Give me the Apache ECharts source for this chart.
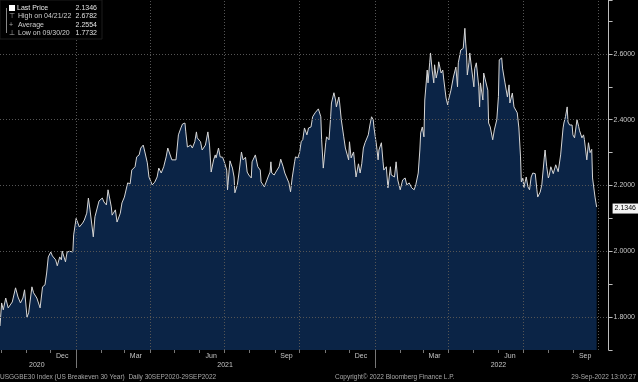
<!DOCTYPE html>
<html>
<head>
<meta charset="utf-8">
<script src="https://cdn.jsdelivr.net/npm/echarts@6/dist/echarts.min.js"></script>
<style>
html,body{margin:0;padding:0;background:#000;}
#chart{width:638px;height:382px;}
</style>
</head>
<body>
<div id="chart"></div>
<script>
// Days since 30-Sep-2020 for each sampled observation
const days = [
0,2,4,7,10,15,19,22,25,28,
30,33,35,39,41,45,49,51,52,55,
57,59,62,64,66,68,70,73,75,76,
80,82,85,89,90,93,95,97,101,103,
106,108,110,114,116,118,121,125,127,130,
132,136,137,141,143,147,149,152,154,156,
159,161,165,167,170,172,175,177,180,182,
184,186,189,192,194,197,200,203,205,207,
210,212,215,216,218,221,223,226,227,229,
233,235,238,240,241,245,247,249,251,254,
256,258,261,263,264,267,269,272,274,277,
278,280,281,284,286,287,290,292,295,297,
300,302,304,307,308,312,313,315,318,319,
323,325,328,330,331,332,335,337,341,343,
346,348,349,353,355,357,360,361,364,366,
368,370,372,375,377,380,382,385,387,389,
392,393,395,398,399,402,404,405,408,410,
411,414,415,417,420,422,423,426,427,429,
432,433,435,438,440,442,444,446,450,452,
454,456,457,460,462,463,466,468,469,472,
474,477,478,482,484,486,489,490,492,495,
497,500,503,506,508,511,513,514,516,518,
519,522,523,525,526,528,530,531,533,535,
536,539,541,542,545,547,548,551,553,554,
557,559,560,563,566,568,569,570,571,573,
574,576,579,580,582,585,586,587,590,591,
593,596,597,599,602,604,607,609,610,613,
614,616,617,620,622,623,626,628,630,632,
634,636,637,639,640,643,645,647,649,651,
654,656,657,660,662,665,666,668,670,671,
673,676,677,679,682,683,685,688,689,691,
693,694,696,699,700,702,705,707,708,711,
713,714,717,719,721,723,724,726,727,729
];
// US Breakeven 30 Year values
const values = [
1.773,1.843,1.822,1.858,1.828,1.846,1.889,1.861,1.843,1.858,
1.883,1.800,1.813,1.892,1.874,1.858,1.828,1.830,1.892,1.898,
1.934,1.983,1.998,1.986,1.990,1.974,1.956,1.983,1.974,2.001,
1.968,1.998,2.000,1.998,2.050,2.100,2.105,2.074,2.086,2.095,
2.116,2.162,2.126,2.044,2.105,2.100,2.153,2.162,2.150,2.141,
2.187,2.135,2.110,2.126,2.089,2.116,2.147,2.165,2.160,2.208,
2.205,2.247,2.257,2.287,2.293,2.314,2.323,2.302,2.269,2.226,
2.230,2.202,2.210,2.226,2.253,2.238,2.257,2.287,2.314,2.308,
2.278,2.284,2.278,2.302,2.354,2.375,2.387,2.390,2.363,2.317,
2.323,2.314,2.333,2.363,2.345,2.333,2.308,2.302,2.323,2.363,
2.323,2.241,2.278,2.293,2.284,2.314,2.287,2.286,2.272,2.247,
2.187,2.247,2.275,2.253,2.226,2.178,2.202,2.238,2.302,2.278,
2.286,2.241,2.232,2.223,2.272,2.293,2.287,2.257,2.247,2.211,
2.196,2.193,2.229,2.241,2.272,2.238,2.232,2.241,2.257,2.280,
2.257,2.238,2.241,2.208,2.181,2.223,2.272,2.287,2.284,2.300,
2.333,2.340,2.375,2.354,2.375,2.378,2.409,2.421,2.418,2.433,
2.409,2.339,2.253,2.330,2.348,2.339,2.409,2.451,2.482,2.460,
2.439,2.469,2.451,2.400,2.348,2.314,2.318,2.278,2.333,2.284,
2.302,2.278,2.226,2.266,2.238,2.266,2.314,2.330,2.354,2.384,
2.409,2.400,2.375,2.323,2.278,2.308,2.330,2.272,2.247,2.257,
2.193,2.257,2.232,2.226,2.272,2.217,2.187,2.193,2.217,2.223,
2.202,2.208,2.193,2.187,2.202,2.238,2.308,2.360,2.378,2.348,
2.460,2.551,2.512,2.573,2.603,2.551,2.512,2.567,2.527,2.551,
2.576,2.542,2.551,2.527,2.466,2.445,2.460,2.490,2.485,2.530,
2.560,2.500,2.573,2.612,2.617,2.678,2.633,2.603,2.536,2.573,
2.603,2.560,2.500,2.555,2.573,2.500,2.439,2.512,2.460,2.542,
2.536,2.490,2.390,2.378,2.339,2.369,2.400,2.470,2.582,2.588,
2.557,2.557,2.512,2.469,2.506,2.451,2.481,2.439,2.445,2.421,
2.375,2.287,2.211,2.223,2.193,2.226,2.196,2.187,2.226,2.238,
2.236,2.187,2.165,2.180,2.202,2.284,2.308,2.257,2.223,2.230,
2.257,2.236,2.230,2.263,2.242,2.245,2.293,2.375,2.390,2.410,
2.439,2.393,2.384,2.384,2.354,2.345,2.400,2.380,2.368,2.345,
2.354,2.340,2.278,2.330,2.300,2.310,2.223,2.226,2.165,2.1346
];
const startDate = '2020-09-30';
const endPadDays = 743.6;
const gridValues = [1.8, 2.0, 2.2, 2.4, 2.6];
const quarterDates = ['2021-01-01','2021-04-01','2021-07-01','2021-10-01','2022-01-01','2022-04-01','2022-07-01','2022-10-01'];
const monthLabelDates = ['2020-12-15','2021-03-15','2021-06-15','2021-09-15','2021-12-15','2022-03-15','2022-06-15','2022-09-15'];
const yearStarts = ['2021-01-01','2022-01-01'];
const yearLabelDates = ['2020-11-14','2021-07-02','2022-06-01'];
const monthNames = ['Jan','Feb','Mar','Apr','May','Jun','Jul','Aug','Sep','Oct','Nov','Dec'];
const legendRows = [
  ['Last Price', '2.1346'],
  ['High on 04/21/22', '2.6782'],
  ['Average', '2.2554'],
  ['Low on 09/30/20', '1.7732']
];
const lastPrice = 2.1346;
const footerLeft = 'USGGBE30 Index (US Breakeven 30 Year)  Daily 30SEP2020-29SEP2022';
const footerMid = 'Copyright\u00A9 2022 Bloomberg Finance L.P.';
const footerRight = '29-Sep-2022 13:00:27';

const DAY = 86400000;
const ts = s => new Date(s + 'T00:00:00').getTime();
const START = ts(startDate);
const XMAX = START + endPadDays * DAY;
const seriesData = days.map((d, i) => [START + d * DAY, values[i]]);
const monthStarts = [];
for (let k = 1; k <= 24; k++) {
  monthStarts.push(new Date(2020, 9 + k - 1, 1).getTime());
}

const FONT = '"Liberation Sans", Arial, sans-serif';
const gridLine = {color: '#555555', type: [1, 2], width: 1};

const graphic = [];
graphic.push({type: 'rect', shape: {x: 0, y: 0, width: 102, height: 39}, style: {fill: '#000', stroke: '#1c1c1c'}, z: 100});
graphic.push({type: 'rect', shape: {x: 9, y: 5, width: 6, height: 6}, style: {fill: '#fff'}, z: 101});
graphic.push({type: 'line', shape: {x1: 6.5, y1: 8, x2: 6.5, y2: 33}, style: {stroke: '#888', lineWidth: 1}, z: 101});
['\u22A4', '+', '\u22A5'].forEach((s, i) => {
  graphic.push({type: 'text', x: 9, y: 16.5 + i * 8.3, z: 101,
    style: {text: s, fill: '#aaa', font: '7px ' + FONT, verticalAlign: 'middle'}});
});
legendRows.forEach((r, i) => {
  graphic.push({type: 'text', x: i === 0 ? 17 : 18, y: 8 + i * 8.3, z: 101,
    style: {text: r[0], fill: i === 0 ? '#e8e8e8' : '#cfcfcf', font: '7px ' + FONT, verticalAlign: 'middle'}});
  graphic.push({type: 'text', x: 97, y: 8 + i * 8.3, z: 101,
    style: {text: r[1], fill: '#e0e0e0', font: '7px ' + FONT, align: 'right', verticalAlign: 'middle'}});
});
graphic.push({type: 'text', x: 0, y: 377, style: {text: footerLeft, fill: '#a8a8a8', font: '6.5px ' + FONT, verticalAlign: 'middle'}});
graphic.push({type: 'text', x: 335, y: 377, style: {text: footerMid, fill: '#a8a8a8', font: '6.5px ' + FONT, verticalAlign: 'middle'}});
graphic.push({type: 'text', x: 636, y: 377, style: {text: footerRight, fill: '#a8a8a8', font: '6.5px ' + FONT, align: 'right', verticalAlign: 'middle'}});

const markData = [];
gridValues.forEach(v => markData.push({yAxis: v}));
quarterDates.forEach(d => markData.push({xAxis: ts(d)}));
markData.push({yAxis: lastPrice, lineStyle: {color: 'rgba(0,0,0,0)', width: 0, opacity: 1},
  label: {show: true, position: 'end', distance: 4, formatter: lastPrice.toFixed(4), opacity: 1,
    backgroundColor: '#f4f4f4', color: '#000', fontSize: 7, fontFamily: FONT, padding: [2, 2, 1, 2]}});

const chart = echarts.init(document.getElementById('chart'), null, {renderer: 'canvas'});
chart.setOption({
  backgroundColor: '#000',
  animation: false,
  grid: {left: 0, right: 25, top: 0, bottom: 32, containLabel: false},
  xAxis: [{
    type: 'value', min: START, max: XMAX, position: 'bottom',
    axisLine: {show: false},
    splitLine: {show: false},
    axisTick: {show: true, length: 3, lineStyle: {color: '#777'}, customValues: monthStarts},
    axisLabel: {customValues: monthLabelDates.map(ts), color: '#c4c4c4', fontSize: 7, fontFamily: FONT, margin: 3,
      formatter: v => monthNames[new Date(v).getMonth()]}
  }, {
    type: 'value', min: START, max: XMAX, position: 'bottom',
    axisLine: {show: false},
    splitLine: {show: false},
    axisTick: {show: true, length: 18, lineStyle: {color: '#777'}, customValues: yearStarts.map(ts)},
    axisLabel: {customValues: yearLabelDates.map(ts), color: '#c4c4c4', fontSize: 7, fontFamily: FONT, margin: 12,
      formatter: v => String(new Date(v).getFullYear())}
  }],
  yAxis: {
    type: 'value', position: 'right', min: 1.7, max: 2.764, interval: 0.1,
    axisLine: {show: true, lineStyle: {color: '#bdbdbd', width: 1}},
    axisTick: {show: true, length: 4, lineStyle: {color: '#bdbdbd'}},
    splitLine: {show: false},
    axisLabel: {color: '#c8c8c8', fontSize: 7, fontFamily: FONT, margin: 5,
      formatter: v => (Math.abs(v * 5 - Math.round(v * 5)) < 1e-6 ? v.toFixed(4) : '')}
  },
  series: [{
    type: 'line', xAxisIndex: 0, data: seriesData, showSymbol: false, symbol: 'none',
    lineStyle: {color: '#d6d6d6', width: 1},
    areaStyle: {color: '#0b2446', opacity: 1},
    markLine: {silent: true, symbol: ['none', 'none'], animation: false,
      label: {show: false}, lineStyle: gridLine, emphasis: {disabled: true}, data: markData}
  }],
  graphic: graphic
});
</script>
</body>
</html>
